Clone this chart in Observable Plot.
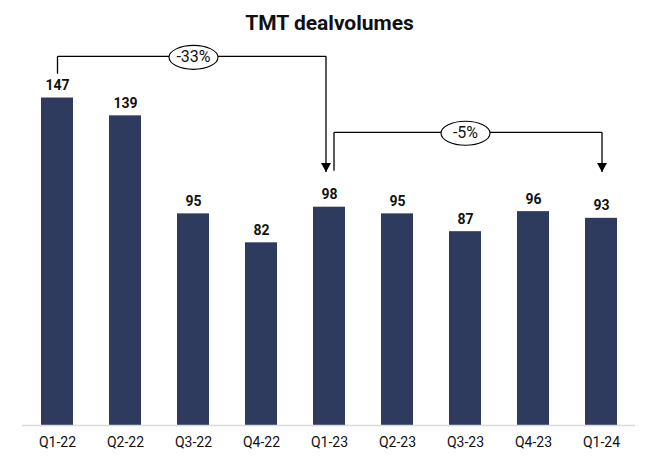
<!DOCTYPE html>
<html>
<head>
<meta charset="utf-8">
<script src="https://cdn.jsdelivr.net/npm/d3@7"></script>
<script src="https://cdn.jsdelivr.net/npm/@observablehq/plot@0.6"></script>
<style>
  html, body { margin: 0; padding: 0; background: #fff; }
  #wrap { position: relative; width: 659px; height: 461px; }
  #title { position: absolute; left: 0; width: 659px; top: 11px; text-align: center;
           font-family: Roboto, sans-serif; font-weight: bold; font-size: 21px; line-height: 24px; color: #111; }
  #chart { position: absolute; left: 0; top: 0; }
</style>
</head>
<body>
<div id="wrap">
  <div id="chart"></div>
  <div id="title">TMT dealvolumes</div>
</div>
<script>
const quarters = ["Q1-22","Q2-22","Q3-22","Q4-22","Q1-23","Q2-23","Q3-23","Q4-23","Q1-24"];
const volumes = [147, 139, 95, 82, 98, 95, 87, 96, 93];

// Bracket annotations: from, to, label position, label, levels (in value units)
const bracketFrom = ["Q1-22", "Q1-23"];
const bracketTo = ["Q1-23", "Q1-24"];
const bracketMid = ["Q3-22", "Q3-23"];
const bracketLabels = ["-33%", "-5%"];
const bracketLevel = [165.7, 131.6];
const bracketStartEnd = [157.9, 114.4];
const arrowTip = [113.8, 113.8];

const data = quarters.map((q, i) => ({q, v: volumes[i]}));

const ellipse = {
  draw(ctx) {
    const rx = 24.5, ry = 12, k = 0.5523;
    ctx.moveTo(-rx, 0);
    ctx.bezierCurveTo(-rx, -ry * k, -rx * k, -ry, 0, -ry);
    ctx.bezierCurveTo(rx * k, -ry, rx, -ry * k, rx, 0);
    ctx.bezierCurveTo(rx, ry * k, rx * k, ry, 0, ry);
    ctx.bezierCurveTo(-rx * k, ry, -rx, ry * k, -rx, 0);
    ctx.closePath();
  }
};
const arrowHead = {
  draw(ctx) {
    ctx.moveTo(-5, -9);
    ctx.lineTo(5, -9);
    ctx.lineTo(0, 0);
    ctx.closePath();
  }
};

const ann = bracketFrom.map((f, i) => ({
  from: f, to: bracketTo[i], mid: bracketMid[i], label: bracketLabels[i],
  level: bracketLevel[i], start: bracketStartEnd[i], tip: arrowTip[i]
}));
const offFrom = [0, 4.5];
const offTo = [-3.5, 0.5];

const marks = [
  Plot.barY(data, {x: "q", y: "v", fill: "#2E3B5E"}),
  Plot.ruleY([0], {stroke: "#d9d9d9", strokeWidth: 1.6}),
  Plot.text(data, {x: "q", y: "v", text: d => String(d.v), lineAnchor: "bottom", dy: -8,
    fontSize: 14, fontWeight: "bold", fill: "#111"}),
  Plot.axisX({tickSize: 0, tickPadding: 12, fontSize: 14, label: null, color: "#111"})
];

ann.forEach((a, i) => {
  marks.push(Plot.link([a], {x1: "from", x2: "from", y1: "start", y2: "level", dx: offFrom[i], stroke: "#000", strokeWidth: 1.3}));
  marks.push(Plot.link([a], {x1: "from", x2: "mid", y1: "level", y2: "level", dx: offFrom[i], stroke: "#000", strokeWidth: 1.3}));
  marks.push(Plot.link([a], {x1: "mid", x2: "to", y1: "level", y2: "level", dx: offTo[i], stroke: "#000", strokeWidth: 1.3}));
  marks.push(Plot.link([a], {x1: "to", x2: "to", y1: "level", y2: "tip", dx: offTo[i], stroke: "#000", strokeWidth: 1.3}));
  marks.push(Plot.dot([a], {x: "to", y: "tip", dx: offTo[i], symbol: arrowHead, fill: "#000", stroke: "none", r: 5}));
  marks.push(Plot.dot([a], {x: "mid", y: "level", dy: 1, symbol: ellipse, fill: "#fff", stroke: "#000", strokeWidth: 1.1, r: 10}));
  marks.push(Plot.text([a], {x: "mid", y: "level", dy: 1, text: "label", fontSize: 16, fill: "#111"}));
});

const chart = Plot.plot({
  width: 659,
  height: 461,
  marginLeft: 22,
  marginRight: 24,
  marginTop: 24,
  marginBottom: 36,
  style: {fontFamily: "Roboto, sans-serif", background: "#fff", overflow: "visible"},
  x: {domain: quarters, paddingInner: 0.53, paddingOuter: 0.27, label: null},
  y: {domain: [0, 180], axis: null},
  marks
});
document.getElementById("chart").appendChild(chart);
</script>
</body>
</html>
